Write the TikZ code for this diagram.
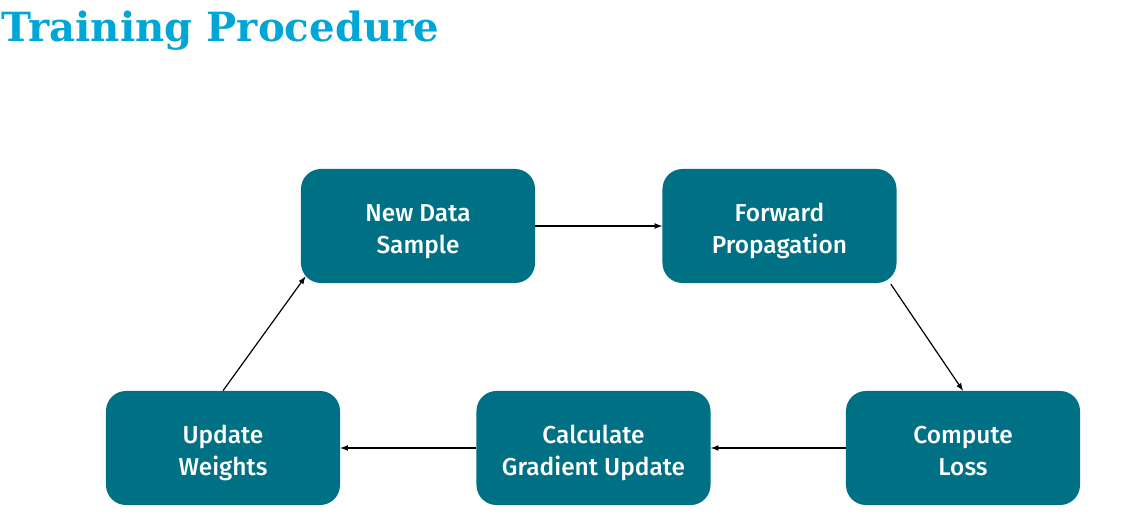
\documentclass[tikz,border=0pt]{standalone}
\usepackage{fontspec}
\setmainfont{Fira Sans}
\newfontfamily\titlefont{DejaVu Serif}
\newfontfamily\stepfont{Fira Sans Medium}
\definecolor{titleblue}{RGB}{0,166,214}
\definecolor{boxteal}{RGB}{0,112,133}
\newcommand{\firstline}{\rule{0pt}{21.5pt}}
\newcommand{\lastline}{\rule[-5pt]{0pt}{5pt}}
\begin{document}
\begin{tikzpicture}[x=0.025cm, y=-0.025cm,
        stepbox/.style={fill=boxteal, rounded corners=0.5cm, minimum width=5.85cm,
            minimum height=2.85cm, align=center, text=white, inner sep=0pt,
            font=\stepfont\fontsize{17.4}{22.7}\selectfont},
        flow/.style={-latex, black, line width=0.85pt}]
            \useasboundingbox (0,0) rectangle (1124,527);
            \node[anchor=base west, inner sep=0pt, text=titleblue, font=\titlefont\bfseries\fontsize{28.6}{30}\selectfont] (title) at (1,41) {Training Procedure};

            \node[stepbox] (sample) at (418,226) {\firstline New Data\\Sample\lastline};
            \node[stepbox] (forward) at (779.5,226) {\firstline Forward\\Propagation\lastline};
            \node[stepbox] (loss) at (963,448) {\firstline Compute\\Loss\lastline};
            \node[stepbox] (gradient) at (593.5,448) {\firstline Calculate\\Gradient Update\lastline};
            \node[stepbox] (update) at (223,448) {\firstline Update\\Weights\lastline};

            \draw[flow] (sample) -- (forward);
            \draw[flow] ([xshift=-0.15cm, yshift=-0.02cm]forward.south east) -- (loss.north);
            \draw[flow] (loss) -- (gradient);
            \draw[flow] (gradient) -- (update);
            \draw[flow] (update.north) -- ([xshift=0.12cm, yshift=0.17cm]sample.south west);
        \end{tikzpicture}
\end{document}
